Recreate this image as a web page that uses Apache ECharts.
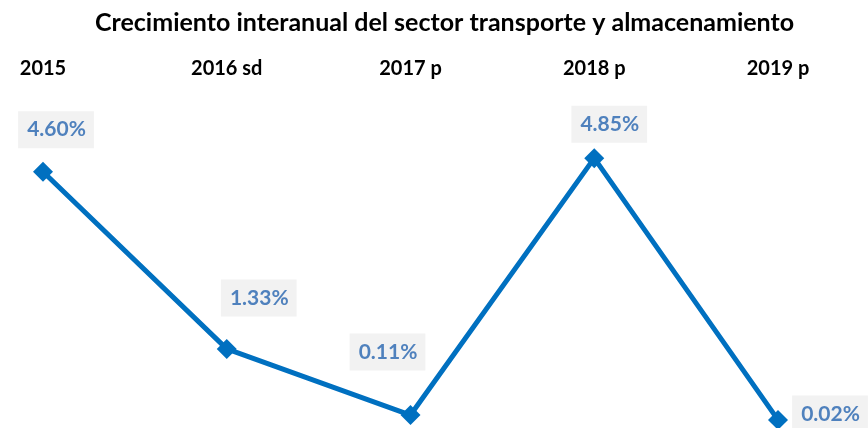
<!DOCTYPE html>
<html>
<head>
<meta charset="utf-8">
<script src="https://cdn.jsdelivr.net/npm/echarts@6/dist/echarts.min.js"></script>
<style>
  html, body { margin: 0; padding: 0; background: #fff; }
  #chart { width: 868px; height: 428px; }
</style>
</head>
<body>
<div id="chart"></div>
<script>
var years = ['2015', '2016 sd', '2017 p', '2018 p', '2019 p'];
var growth = [4.60, 1.33, 0.11, 4.85, 0.02];

// where each label box sits relative to its point
var labelShift = [[13, -42], [32, -51], [-23, -63], [15, -34], [52, -6]];

var myChart = echarts.init(document.getElementById('chart'));

var points = [];
for (var i = 0; i < growth.length; i++) {
  points.push({
    value: growth[i],
    label: { offset: labelShift[i] }
  });
}

var option = {
  animation: false,
  title: {
    text: 'Crecimiento interanual del sector transporte y almacenamiento',
    left: 90,
    top: 5,
    textStyle: { fontFamily: 'Lato', fontWeight: 'bold', fontSize: 25, color: '#000' }
  },
  grid: { left: 43, right: 90, top: 150, bottom: 7 },
  xAxis: {
    type: 'category',
    position: 'top',
    boundaryGap: false,
    data: years,
    axisLine: { show: false },
    axisTick: { show: false },
    axisLabel: {
      margin: 71,
      fontFamily: 'Lato',
      fontWeight: 'bold',
      fontSize: 20,
      color: '#000'
    }
  },
  yAxis: {
    type: 'value',
    min: 0,
    max: 5,
    show: false,
    splitLine: { show: false }
  },
  series: [{
    type: 'line',
    data: points,
    symbol: 'diamond',
    symbolSize: 20,
    lineStyle: { color: '#0070C0', width: 5 },
    itemStyle: { color: '#0070C0' },
    label: {
      show: true,
      position: 'inside',
      formatter: function (p) { return p.value.toFixed(2) + '%'; },
      fontFamily: 'Lato',
      fontWeight: 'bold',
      fontSize: 21,
      color: '#4F81BD',
      backgroundColor: '#F2F2F2',
      padding: [8, 8, 8, 9]
    }
  }]
};

myChart.setOption(option);
</script>
</body>
</html>
